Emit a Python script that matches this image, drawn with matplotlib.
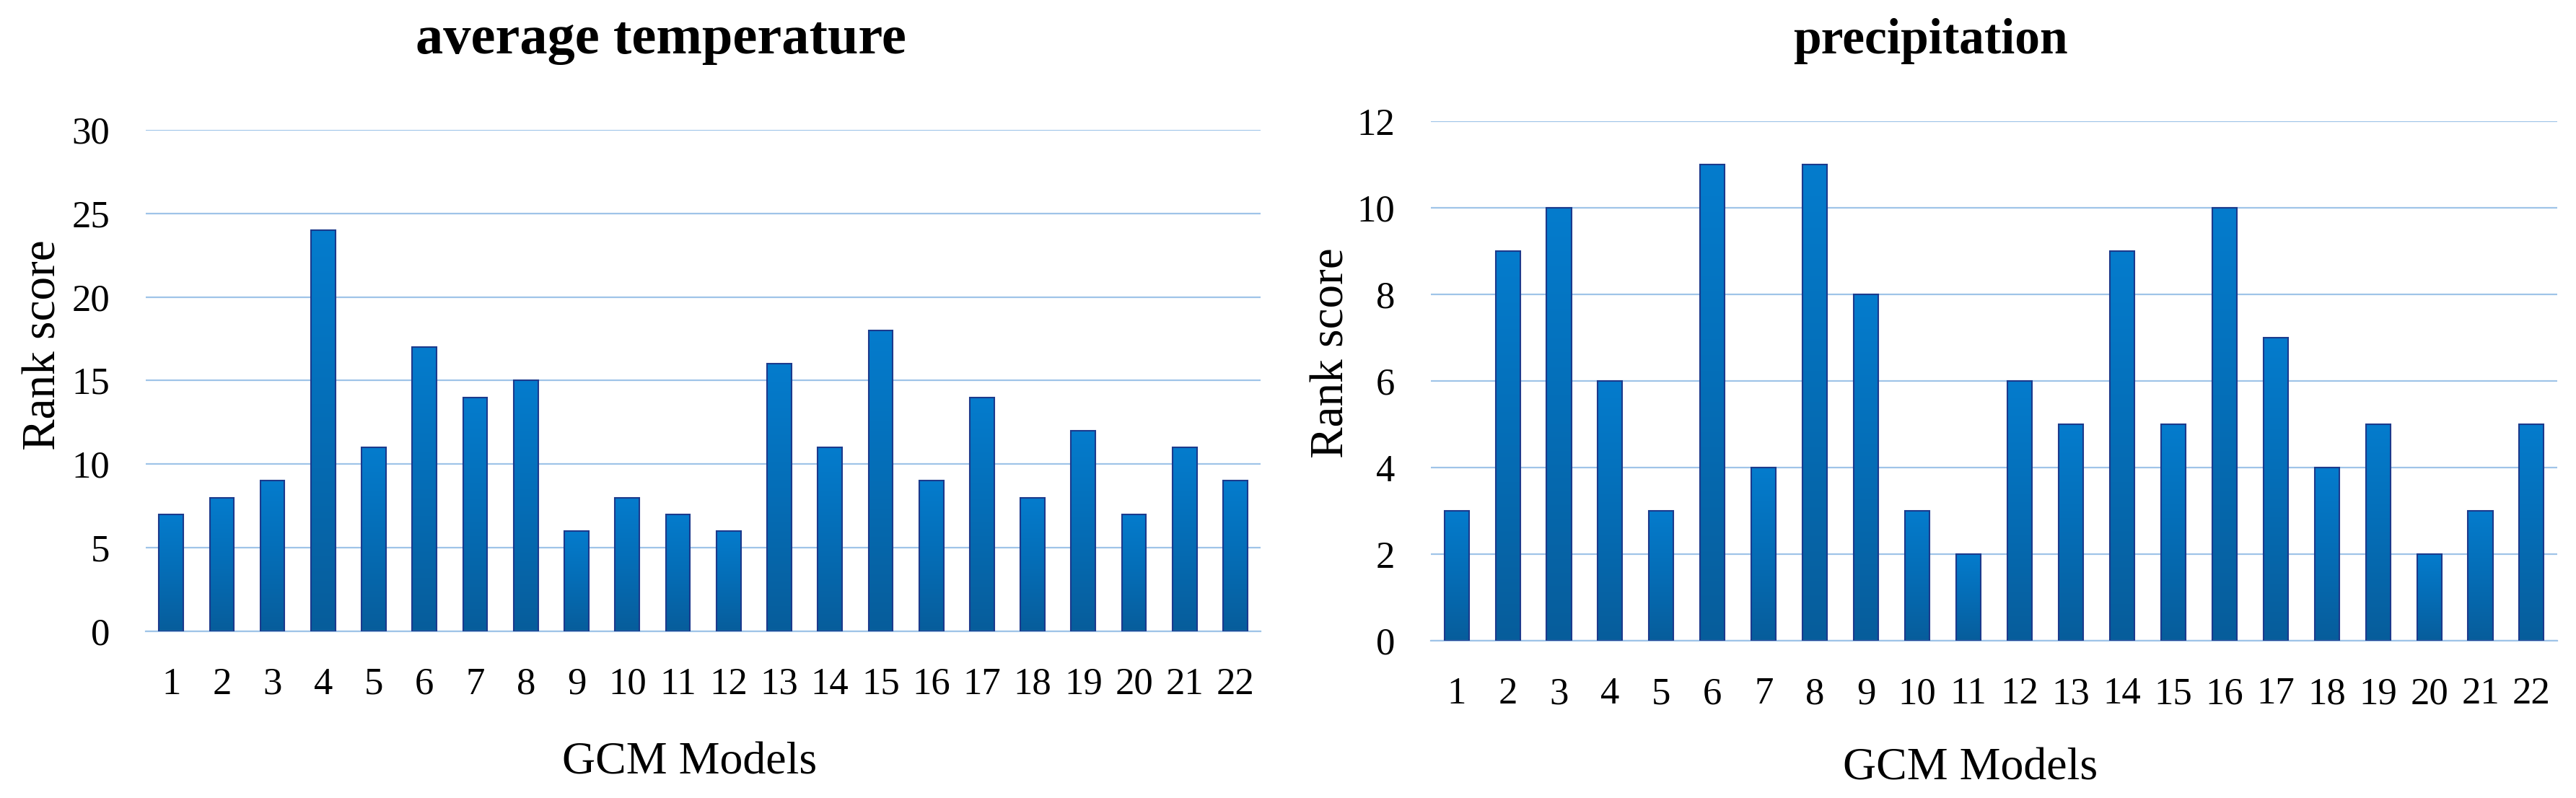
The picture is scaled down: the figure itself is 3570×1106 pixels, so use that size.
import matplotlib
matplotlib.use("Agg")
import matplotlib.pyplot as plt
import numpy as np
from matplotlib.colors import LinearSegmentedColormap

models = [str(i) for i in range(1, 23)]
temperature = [7, 8, 9, 24, 11, 17, 14, 15, 6, 8, 7, 6, 16, 11, 18, 9, 14, 8, 12, 7, 11, 9]
precipitation = [3, 9, 10, 6, 3, 11, 4, 11, 8, 3, 2, 6, 5, 9, 5, 10, 7, 4, 5, 2, 3, 5]

plt.rcParams["font.family"] = ["Liberation Serif", "DejaVu Serif"]

GRID = "#9fc4e8"
bar_cmap = LinearSegmentedColormap.from_list("bars", ["#075d9b", "#056db6", "#047ccd"])
grad = np.linspace(0, 1, 256).reshape(-1, 1)

fig = plt.figure(figsize=(35.7, 11.06), dpi=100)
ax1 = fig.add_axes([0.0566, 0.2089, 0.4328, 0.6284])
ax2 = fig.add_axes([0.5555, 0.1971, 0.4372, 0.651])


def draw(ax, values, ymax, step):
    x = np.arange(len(values))
    bars = ax.bar(x, values, width=0.48, color="none", edgecolor="#1c3a8c",
                  linewidth=1.5, zorder=3)
    # vertical gradient inside every bar
    for b in bars:
        x0, w, h = b.get_x(), b.get_width(), b.get_height()
        ax.imshow(grad, cmap=bar_cmap, origin="lower", aspect="auto",
                  extent=(x0, x0 + w, 0, h), zorder=2)
    ax.set_xlim(-0.5, len(values) - 0.5)
    ax.set_ylim(0, ymax)
    ax.set_yticks(np.arange(0, ymax + step, step))
    ax.set_xticks(x)
    ax.set_xticklabels(models)
    ax.grid(axis="y", color=GRID, linewidth=1.6, zorder=0)
    ax.set_axisbelow(True)
    for s in ["top", "right", "left"]:
        ax.spines[s].set_visible(False)
    ax.spines["bottom"].set_color(GRID)
    ax.spines["bottom"].set_linewidth(1.6)
    ax.tick_params(axis="both", length=0, labelsize=38)
    ax.tick_params(axis="y", pad=36)
    ax.tick_params(axis="x", pad=36)


draw(ax1, temperature, 30, 5)
draw(ax2, precipitation, 12, 2)

ax1.set_ylabel("Rank score", fontsize=47)
ax1.yaxis.set_label_coords(-0.072, 0.571)
ax2.set_ylabel("Rank score", fontsize=47)
ax2.yaxis.set_label_coords(-0.069, 0.554)

fig.text(0.2678, 0.030, "GCM Models", ha="center", va="baseline", fontsize=46)
fig.text(0.765, 0.0235, "GCM Models", ha="center", va="baseline", fontsize=46)

fig.text(0.2567, 0.933, "average temperature", ha="center", va="baseline",
         fontsize=55, fontweight="bold")
fig.text(0.7493, 0.933, "precipitation", ha="center", va="baseline",
         fontsize=50, fontweight="bold")

fig.savefig("out.png", dpi=100)
plt.close(fig)
